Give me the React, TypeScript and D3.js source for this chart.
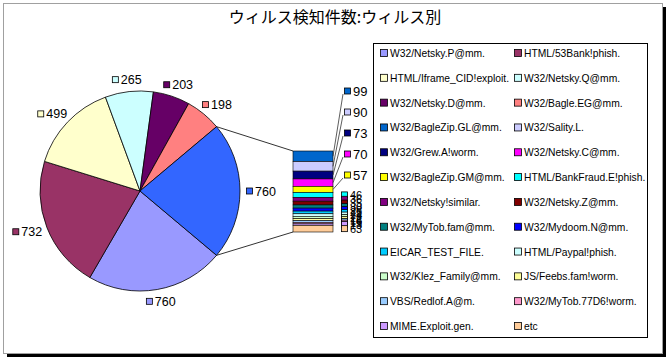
import React from "react";
import * as d3 from "d3";

const title = "ウィルス検知件数:ウィルス別";

const mainNames = [
  "W32/Netsky.P@mm.",
  "HTML/53Bank!phish.",
  "HTML/Iframe_CID!exploit.",
  "W32/Netsky.Q@mm.",
  "W32/Netsky.D@mm.",
  "W32/Bagle.EG@mm.",
];
const mainValues = [760, 732, 499, 265, 203, 198];
const mainColors = ["#9999FF", "#993366", "#FFFFCC", "#CCFFFF", "#660066", "#FF8080"];

const barNames = [
  "W32/BagleZip.GL@mm.",
  "W32/Sality.L.",
  "W32/Grew.A!worm.",
  "W32/Netsky.C@mm.",
  "W32/BagleZip.GM@mm.",
  "HTML/BankFraud.E!phish.",
  "W32/Netsky!similar.",
  "W32/Netsky.Z@mm.",
  "W32/MyTob.fam@mm.",
  "W32/Mydoom.N@mm.",
  "EICAR_TEST_FILE.",
  "HTML/Paypal!phish.",
  "W32/Klez_Family@mm.",
  "JS/Feebs.fam!worm.",
  "VBS/Redlof.A@m.",
  "W32/MyTob.77D6!worm.",
  "MIME.Exploit.gen.",
  "etc",
];
const barValues = [99, 90, 73, 70, 57, 46, 36, 35, 30, 28, 25, 24, 22, 18, 16, 15, 13, 63];
const barColors = [
  "#0066CC", "#CCCCFF", "#000080", "#FF00FF", "#FFFF00", "#00FFFF",
  "#800080", "#800000", "#008080", "#0000FF", "#00CCFF", "#CCFFFF",
  "#CCFFCC", "#FFFF99", "#99CCFF", "#FF99CC", "#CC99FF", "#FFCC99",
];
const otherColor = "#3366FF";

const W = 670;
const H = 360;
const FONT = "'Liberation Sans', Arial, sans-serif";

export default function App() {
  const cx = 140, cy = 191, r = 100;
  const otherValue = d3.sum(barValues);
  const total = d3.sum(mainValues) + otherValue;
  const f = otherValue / total;
  const start = Math.PI / 2 + f * Math.PI;

  const pieData = mainValues
    .map((v, i) => ({ value: v, color: mainColors[i] }))
    .concat([{ value: otherValue, color: otherColor }]);
  const arcs = d3
    .pie<any>()
    .sort(null)
    .value((d: any) => d.value)
    .startAngle(start)
    .endAngle(start + 2 * Math.PI)(pieData);
  const arcGen = d3.arc<any>().innerRadius(0).outerRadius(r);

  // pie labels
  const lblW = (v: number) => 9 + String(v).length * 7;
  const labels = arcs.map((a) => {
    const m = (a.startAngle + a.endAngle) / 2;
    const s = Math.sin(m), c = -Math.cos(m);
    const ax = cx + (r + 6) * s, ay = cy + (r + 6) * c;
    const w = lblW(a.data.value), h = 12;
    return { x: ax + (s * w) / 2, y: ay + (c * h) / 2, w, v: a.data.value, color: a.data.color, m };
  });
  // simple horizontal collision resolution for labels near the top
  const sorted = labels.slice().sort((a, b) => a.x - b.x);
  for (let k = 0; k < 3; k++) {
    for (let i = 0; i < sorted.length - 1; i++) {
      const A = sorted[i], B = sorted[i + 1];
      if (Math.abs(A.y - B.y) < 14) {
        const gap = B.x - B.w / 2 - (A.x + A.w / 2);
        if (gap < 12) {
          const d = (12 - gap) / 2;
          A.x -= d;
          B.x += d;
        }
      }
    }
  }

  // bar
  const barX0 = 293, barX1 = 333, barTop = 151, barBottom = 232;
  const y = d3.scaleLinear().domain([0, otherValue]).range([barTop, barBottom]);
  const cum = d3.cumsum(barValues);
  const segs = barValues.map((v, i) => ({
    v,
    color: barColors[i],
    y0: y(cum[i] - v),
    y1: y(cum[i]),
  }));
  const spreadCount = 5;
  const spread = d3
    .scalePoint<number>()
    .domain(d3.range(spreadCount))
    .range([91, 175]);

  const otherArc = arcs[arcs.length - 1];
  const p1 = [cx + r * Math.sin(otherArc.startAngle), cy - r * Math.cos(otherArc.startAngle)];
  const p2 = [cx + r * Math.sin(otherArc.endAngle), cy - r * Math.cos(otherArc.endAngle)];

  // legend
  const legendNames = mainNames.concat(barNames);
  const legendColors = mainColors.concat(barColors);
  const lgX = 373, lgY = 43, lgW = 274, lgH = 294;
  const rowY = d3.scaleLinear().domain([0, 11]).range([53, 326]);
  const colX = [380, 514];

  return (
    <svg
      width={W}
      height={H}
      style={{ position: "absolute", left: 0, top: 0, fontFamily: FONT }}
    >
      <rect x={0} y={0} width={W} height={H} fill="#fff" />
      {/* frame with shadow */}
      <rect x={7} y={7} width={659} height={350} fill="#000" />
      <rect x={3.5} y={3.5} width={659} height={350} fill="#fff" stroke="#a0a0a0" strokeWidth={1} />

      <text
        x={335}
        y={23}
        textAnchor="middle"
        fontSize={16}
        fontFamily="'Noto Sans CJK JP', sans-serif"
        fill="#000"
      >
        {title}
      </text>

      {/* connector lines */}
      <line x1={p1[0]} y1={p1[1]} x2={barX0} y2={barTop} stroke="#333" strokeWidth={1} />
      <line x1={p2[0]} y1={p2[1]} x2={barX0} y2={barBottom} stroke="#333" strokeWidth={1} />

      {/* pie */}
      <g transform={`translate(${cx},${cy})`}>
        {arcs.map((a, i) => (
          <path key={i} d={arcGen(a) as string} fill={a.data.color} stroke="#000" strokeWidth={0.8} />
        ))}
      </g>
      {labels.map((l, i) => (
        <g key={i}>
          <rect
            x={l.x - l.w / 2 + 0.5}
            y={l.y - 3}
            width={6}
            height={6}
            fill={l.color}
            stroke="#000"
            strokeWidth={0.8}
          />
          <text x={l.x - l.w / 2 + 9} y={l.y + 4.5} fontSize={12.5} fill="#000">
            {l.v}
          </text>
        </g>
      ))}

      {/* bar */}
      {segs.map((s, i) => (
        <rect
          key={i}
          x={barX0}
          y={s.y0}
          width={barX1 - barX0}
          height={s.y1 - s.y0}
          fill={s.color}
          stroke="#000"
          strokeWidth={0.6}
        />
      ))}
      {segs.map((s, i) => {
        const cyS = (s.y0 + s.y1) / 2;
        const spreadOut = i < spreadCount;
        const ly = spreadOut ? (spread(i) as number) : cyS;
        const lx = spreadOut ? 344 : 341;
        return (
          <g key={i}>
            {spreadOut && (
              <line x1={barX1} y1={cyS} x2={lx - 1} y2={ly + 3} stroke="#333" strokeWidth={0.8} />
            )}
            <rect x={lx + 0.5} y={ly - 3} width={6} height={6} fill={s.color} stroke="#000" strokeWidth={0.8} />
            <text x={lx + 9} y={ly + (spreadOut ? 5 : 4)} fontSize={spreadOut ? 13 : 11} fill="#000">
              {s.v}
            </text>
          </g>
        );
      })}

      {/* legend */}
      <rect x={lgX + 0.5} y={lgY + 0.5} width={lgW} height={lgH} fill="#fff" stroke="#000" strokeWidth={1} />
      {legendNames.map((n, i) => {
        const row = Math.floor(i / 2), col = i % 2;
        const ly = rowY(row);
        return (
          <g key={i}>
            <rect
              x={colX[col] + 0.5}
              y={ly - 3.5}
              width={7}
              height={7}
              fill={legendColors[i]}
              stroke="#000"
              strokeWidth={0.8}
            />
            <text x={colX[col] + 10} y={ly + 4} fontSize={10.3} fill="#000">
              {n}
            </text>
          </g>
        );
      })}
    </svg>
  );
}
